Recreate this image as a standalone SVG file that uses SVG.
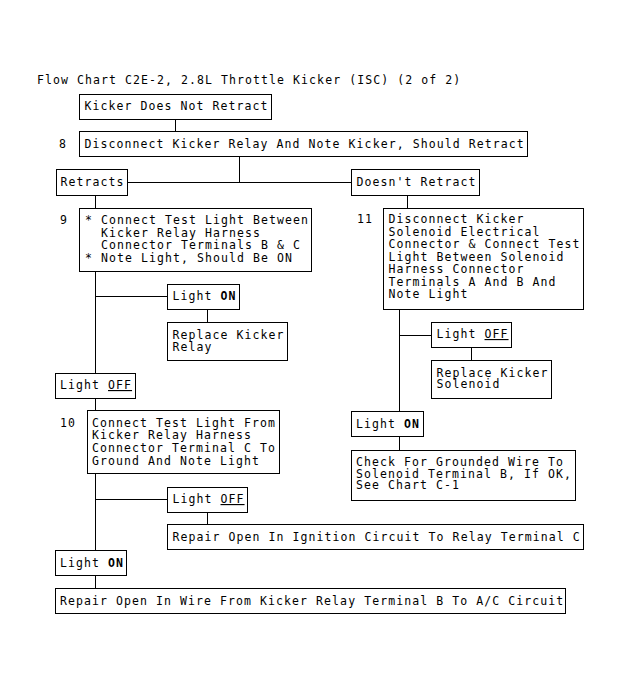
<svg xmlns="http://www.w3.org/2000/svg" width="622" height="690" viewBox="0 0 622 690">
<style>
text{font-family:"DejaVu Sans Mono","Liberation Mono",monospace;font-size:11.5px;letter-spacing:1.08px;fill:#000}
rect{fill:#fff;stroke:#000;stroke-width:1}
line{stroke:#000;stroke-width:1}
.b{font-weight:bold}
.u{text-decoration:underline}
</style>
<rect x="0" y="0" width="622" height="690" style="stroke:none"/>
<text x="37" y="83.5">Flow Chart C2E-2, 2.8L Throttle Kicker (ISC) (2 of 2)</text>
<g id="connectors">
<line x1="175.5" y1="119.5" x2="175.5" y2="131.5"/>
<line x1="239.5" y1="156.5" x2="239.5" y2="182.5"/>
<line x1="127.5" y1="182.5" x2="351.5" y2="182.5"/>
<line x1="407.5" y1="195.5" x2="407.5" y2="208.5"/>
<line x1="399.5" y1="309.5" x2="399.5" y2="411.5"/>
<line x1="399.5" y1="335.5" x2="431.5" y2="335.5"/>
<line x1="471.5" y1="347.5" x2="471.5" y2="360.5"/>
<line x1="399.5" y1="436.5" x2="399.5" y2="450.5"/>
<line x1="95.5" y1="195.5" x2="95.5" y2="208.5"/>
<line x1="95.5" y1="271.5" x2="95.5" y2="373.5"/>
<line x1="95.5" y1="296.5" x2="167.5" y2="296.5"/>
<line x1="207.5" y1="309.5" x2="207.5" y2="322.5"/>
<line x1="95.5" y1="398.5" x2="95.5" y2="410.5"/>
<line x1="95.5" y1="473.5" x2="95.5" y2="550.5"/>
<line x1="95.5" y1="499.5" x2="167.5" y2="499.5"/>
<line x1="207.5" y1="512.5" x2="207.5" y2="524.5"/>
<line x1="95.5" y1="575.5" x2="95.5" y2="588.5"/>
</g>
<g id="n1"><rect x="79.5" y="94.5" width="192" height="25"/><text x="84.5" y="110">Kicker Does Not Retract</text></g>
<g id="n8"><text x="59" y="147.5">8</text><rect x="79.5" y="131.5" width="448" height="25"/><text x="84.5" y="147.5">Disconnect Kicker Relay And Note Kicker, Should Retract</text></g>
<g id="retracts"><rect x="56.5" y="169.5" width="71" height="26"/><text x="60.5" y="186">Retracts</text></g>
<g id="doesnt"><rect x="351.5" y="169.5" width="128" height="26"/><text x="356.5" y="186">Doesn't Retract</text></g>
<g id="n9"><text x="60" y="224">9</text><rect x="79.5" y="208.5" width="232" height="63"/>
<text x="85" y="224">*</text><text x="101" y="224">Connect Test Light Between</text>
<text x="101" y="236.6">Kicker Relay Harness</text>
<text x="101" y="249.2">Connector Terminals B &amp; C</text>
<text x="85" y="261.8">*</text><text x="101" y="261.8">Note Light, Should Be ON</text></g>
<g id="lightOn1"><rect x="167.5" y="284.5" width="72" height="25"/><text x="172.5" y="300">Light <tspan class="b">ON</tspan></text></g>
<g id="replaceRelay"><rect x="167.5" y="322.5" width="120" height="38"/><text x="172.5" y="339.3">Replace Kicker</text><text x="172.5" y="350.8">Relay</text></g>
<g id="lightOff1"><rect x="55.5" y="373.5" width="80" height="25"/><text x="60" y="389">Light <tspan class="u">OFF</tspan></text></g>
<g id="n10"><text x="60" y="426.7">10</text><rect x="87.5" y="410.5" width="192" height="63"/>
<text x="92" y="426.7">Connect Test Light From</text>
<text x="92" y="439.4">Kicker Relay Harness</text>
<text x="92" y="452.1">Connector Terminal C To</text>
<text x="92" y="464.8">Ground And Note Light</text></g>
<g id="lightOff2"><rect x="167.5" y="487.5" width="80" height="25"/><text x="172.5" y="503">Light <tspan class="u">OFF</tspan></text></g>
<g id="repairIgn"><rect x="167.5" y="524.5" width="416" height="25"/><text x="172.5" y="540.5">Repair Open In Ignition Circuit To Relay Terminal C</text></g>
<g id="lightOn2"><rect x="55.5" y="550.5" width="71" height="25"/><text x="60" y="566.5">Light <tspan class="b">ON</tspan></text></g>
<g id="repairWire"><rect x="55.5" y="588.5" width="510" height="25"/><text x="60" y="604.5">Repair Open In Wire From Kicker Relay Terminal B To A/C Circuit</text></g>
<g id="n11"><text x="357" y="223.3">11</text><rect x="383.5" y="208.5" width="200" height="101"/>
<text x="388.5" y="223.3">Disconnect Kicker</text>
<text x="388.5" y="235.8">Solenoid Electrical</text>
<text x="388.5" y="248.3">Connector &amp; Connect Test</text>
<text x="388.5" y="260.8">Light Between Solenoid</text>
<text x="388.5" y="273.3">Harness Connector</text>
<text x="388.5" y="285.8">Terminals A And B And</text>
<text x="388.5" y="298.3">Note Light</text></g>
<g id="lightOff3"><rect x="431.5" y="322.5" width="80" height="25"/><text x="436.5" y="338">Light <tspan class="u">OFF</tspan></text></g>
<g id="replaceSol"><rect x="431.5" y="360.5" width="120" height="38"/><text x="436.5" y="376.7">Replace Kicker</text><text x="436.5" y="388.3">Solenoid</text></g>
<g id="lightOn3"><rect x="351.5" y="411.5" width="72" height="25"/><text x="356" y="427.5">Light <tspan class="b">ON</tspan></text></g>
<g id="check"><rect x="351.5" y="450.5" width="224" height="50"/>
<text x="356" y="466">Check For Grounded Wire To</text>
<text x="356" y="477.7">Solenoid Terminal B, If OK,</text>
<text x="356" y="489.4">See Chart C-1</text></g>
</svg>
